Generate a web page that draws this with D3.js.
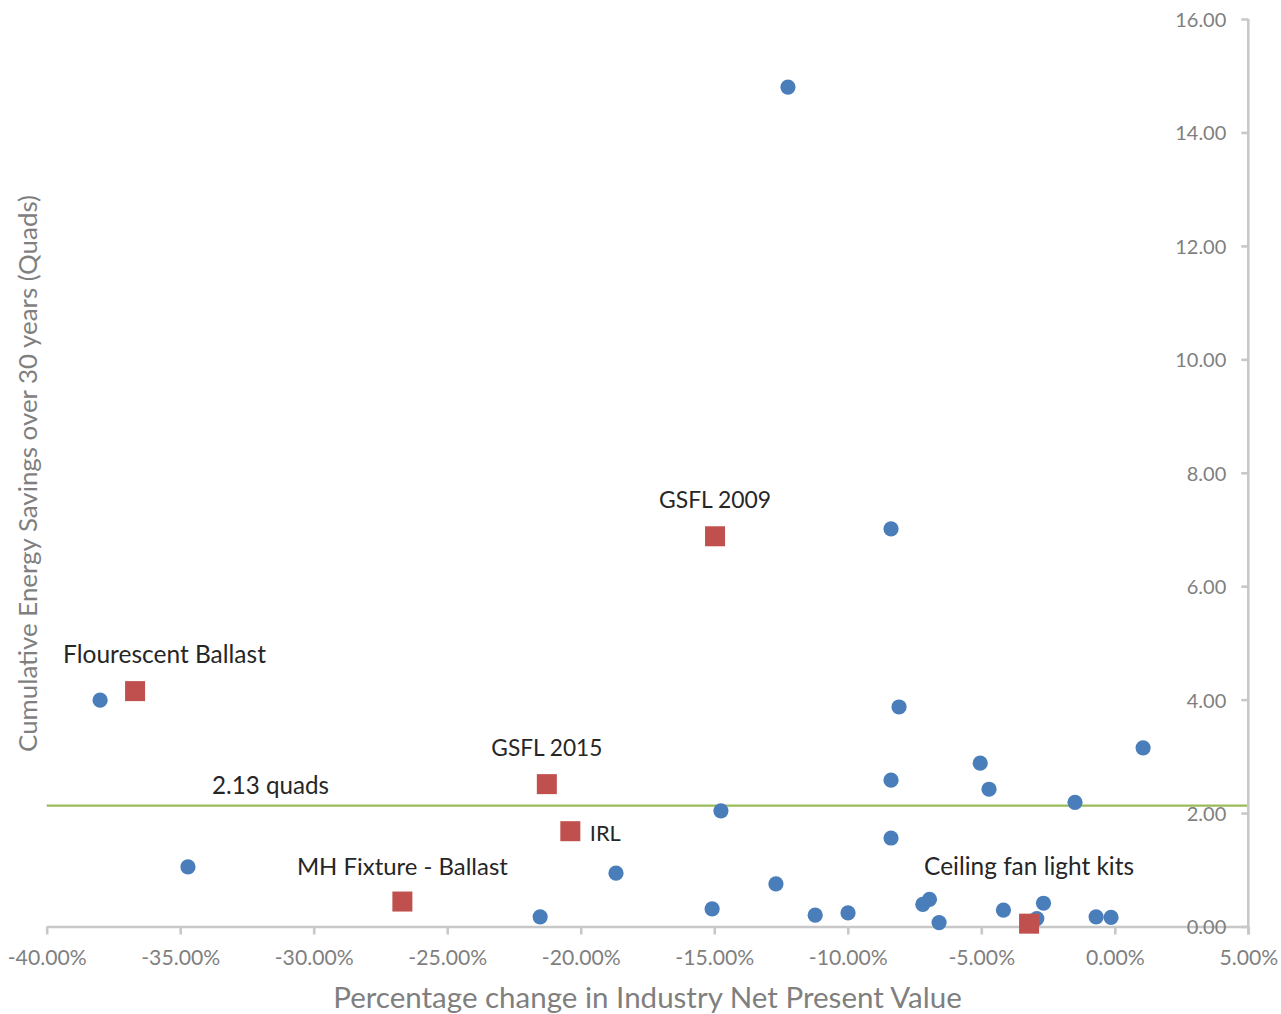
<!DOCTYPE html>
<html><head><meta charset="utf-8">
<script src="https://cdn.jsdelivr.net/npm/d3@7"></script>
<style>html,body{margin:0;padding:0;background:#fff;}svg{display:block;}</style>
</head><body>
<svg id="c" width="1281" height="1014"></svg>
<script>
// ---- data ----
const otherX = [-12.24,-8.38,-38.0,-8.08,1.06,-5.04,-8.38,-4.71,-1.49,-14.75,-8.38,-34.71,-18.68,-12.69,-15.08,-21.52,-11.22,-9.99,-7.19,-6.94,-6.58,-4.17,-2.67,-2.92,-0.70,-0.14];
const otherY = [14.80,7.01,3.99,3.87,3.15,2.88,2.58,2.42,2.19,2.04,1.56,1.05,0.94,0.75,0.31,0.17,0.20,0.24,0.39,0.48,0.07,0.29,0.41,0.14,0.17,0.16];
const lightNames = ["Flourescent Ballast","GSFL 2009","GSFL 2015","IRL","MH Fixture - Ballast","Ceiling fan light kits"];
const lightX = [-36.69,-14.97,-21.27,-20.39,-26.68,-3.21];
const lightY = [4.15,6.88,2.51,1.68,0.44,0.05];
const thresholdValue = 2.13;
const thresholdLabel = "2.13 quads";
const xTicks = [-40,-35,-30,-25,-20,-15,-10,-5,0,5];
const yTicks = [0,2,4,6,8,10,12,14,16];
const xTitle = "Percentage change in Industry Net Present Value";
const yTitle = "Cumulative Energy Savings over 30 years (Quads)";

// ---- layout ----
const FONT = "Lato, 'Open Sans', sans-serif";
const svg = d3.select("#c");
const x = d3.scaleLinear().domain([-40,5]).range([46.7,1248.3]);
const y = d3.scaleLinear().domain([0,16]).range([926.5,19]);
const axisCol = "#c8c8c8", tickTextCol = "#7f7f7f";
const loc = d3.formatLocale({decimal:".", thousands:",", grouping:[3], currency:["$",""], minus:"-"});
const f2 = loc.format(".2f");

function fit(sel, target){
  const w = sel.node().getComputedTextLength();
  const fs = parseFloat(sel.attr("font-size"));
  sel.attr("font-size", fs*target/w);
  return sel;
}

// threshold line
svg.append("line")
  .attr("x1", x(-40)).attr("x2", x(5))
  .attr("y1", y(thresholdValue)).attr("y2", y(thresholdValue))
  .attr("stroke","#9bbb59").attr("stroke-width",2.2);

// x axis
const xAxis = svg.append("g").attr("transform",`translate(0,${y(0)})`)
  .call(d3.axisBottom(x).tickValues(xTicks).tickSize(8).tickSizeOuter(0)
        .tickFormat(d=>f2(d)+"%"));
xAxis.select(".domain").attr("stroke",axisCol).attr("stroke-width",2.6);
xAxis.selectAll(".tick line").attr("stroke",axisCol).attr("stroke-width",2.6);
xAxis.selectAll(".tick text").attr("fill",tickTextCol).attr("font-family",FONT)
  .attr("font-size",20).attr("y",0).attr("dy",null).attr("transform","translate(0,38.5)")
  .each(function(d){ if(d===-40) fit(d3.select(this),79); });
const xfs = xAxis.select(".tick text").attr("font-size");
xAxis.selectAll(".tick text").attr("font-size",xfs);

// y axis (right side, ticks pointing inward/left)
const yAxis = svg.append("g").attr("transform",`translate(${x(5)},0)`)
  .call(d3.axisLeft(y).tickValues(yTicks).tickSize(7).tickSizeOuter(0)
        .tickFormat(f2));
yAxis.select(".domain").attr("stroke",axisCol).attr("stroke-width",2.6)
  .attr("d",`M0,${y(16)}V${y(0)+8}`);
yAxis.selectAll(".tick line").attr("stroke",axisCol).attr("stroke-width",2.6);
yAxis.selectAll(".tick text").attr("fill",tickTextCol).attr("font-family",FONT)
  .attr("font-size",20).attr("x",-22).attr("dy","0.37em")
  .each(function(d){ if(d===16) fit(d3.select(this),54); });
const yfs = yAxis.select(".tick text").attr("font-size");
yAxis.selectAll(".tick text").attr("font-size",yfs);

// axis titles
fit(svg.append("text").attr("x",(x(-40)+x(5))/2).attr("y",1008)
  .attr("text-anchor","middle").attr("fill",tickTextCol).attr("font-family",FONT)
  .attr("font-size",26).text(xTitle), 629);
fit(svg.append("text").attr("transform","translate(36.5,473.5) rotate(-90)")
  .attr("text-anchor","middle").attr("fill",tickTextCol).attr("font-family",FONT)
  .attr("font-size",22).text(yTitle), 557);

// threshold label
fit(svg.append("text").attr("x",212).attr("y",y(thresholdValue)-11.5)
  .attr("fill","#262626").attr("font-family",FONT).attr("font-size",21)
  .text(thresholdLabel), 117);

// other products (blue)
const others = otherX.map((v,i)=>({x:v,y:otherY[i]}));
svg.append("g").selectAll("circle").data(others).join("circle")
  .attr("cx",d=>x(d.x)).attr("cy",d=>y(d.y)).attr("r",7.6)
  .attr("fill","#4a7ebb");

// lighting products (red squares)
const lights = lightNames.map((n,i)=>({name:n,x:lightX[i],y:lightY[i]}));
const S = 20;
svg.append("g").selectAll("rect").data(lights).join("rect")
  .attr("x",d=>x(d.x)-S/2).attr("y",d=>y(d.y)-S/2).attr("width",S).attr("height",S)
  .attr("fill","#c0504d");

// label placements (styling offsets)
const labelPos = {
  "Flourescent Ballast":   {anchor:"start",  dx:-72, dy:-28.5, w:203},
  "GSFL 2009":             {anchor:"middle", dx:0,   dy:-28.5, w:112},
  "GSFL 2015":             {anchor:"middle", dx:0,   dy:-27.8, w:111},
  "IRL":                   {anchor:"start",  dx:19.5,dy:9.5,   w:31},
  "MH Fixture - Ballast":  {anchor:"middle", dx:0,   dy:-27,   w:211},
  "Ceiling fan light kits":{anchor:"middle", dx:0,   dy:-49,   w:210}
};
lights.forEach(d=>{
  const p = labelPos[d.name];
  fit(svg.append("text").attr("x",x(d.x)+p.dx).attr("y",y(d.y)+p.dy)
    .attr("text-anchor",p.anchor).attr("fill","#262626").attr("font-family",FONT)
    .attr("font-size",21).text(d.name), p.w);
});
</script>
</body></html>
